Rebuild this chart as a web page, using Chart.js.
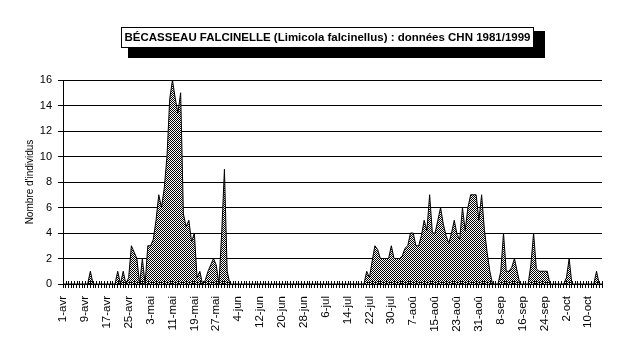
<!DOCTYPE html>
<html>
<head>
<meta charset="utf-8">
<title>Bécasseau falcinelle</title>
<script src="https://cdn.jsdelivr.net/npm/chart.js@4"></script>
<style>
    body { margin: 0; background: #fff; }
    canvas { display: block; }
</style>
</head>
<body>
<canvas id="chart" width="640" height="349"></canvas>
<script>
// titre du graphique
const chartTitle = 'BÉCASSEAU FALCINELLE (Limicola falcinellus) : données CHN 1981/1999';
const yTitle = "Nombre d'individus";

// une étiquette tous les 8 jours, du 1er avril au 10 octobre
const tickLabels = ['1-avr', '9-avr', '17-avr', '25-avr', '3-mai', '11-mai', '19-mai', '27-mai',
    '4-jun', '12-jun', '20-jun', '28-jun', '6-jul', '14-jul', '22-jul', '30-jul',
    '7-aoû', '15-aoû', '23-aoû', '31-aoû', '8-sep', '16-sep', '24-sep', '2-oct', '10-oct'];

// nombre d'individus par jour (1-avr .. 15-oct)
const counts = [
    0, 0, 0, 0, 0, 0, 0, 0, 0, 0,
    1, 0, 0, 0, 0, 0, 0, 0, 0, 0,
    1, 0, 1, 0, 0.5, 3, 2.5, 2, 0, 2,
    0, 3, 3, 3.5, 5, 7, 6, 7.5, 10, 14.5,
    16, 14.6, 13.4, 15, 5.5, 4.5, 5, 3.3, 4, 0.5,
    1, 0, 0.3, 1, 1.5, 2, 1.5, 0, 4, 9,
    1, 0, 0, 0, 0, 0, 0, 0, 0, 0,
    0, 0, 0, 0, 0, 0, 0, 0, 0, 0,
    0, 0, 0, 0, 0, 0, 0, 0, 0, 0,
    0, 0, 0, 0, 0, 0, 0, 0, 0, 0,
    0, 0, 0, 0, 0, 0, 0, 0, 0, 0,
    0, 1, 0.5, 1.8, 3, 2.7, 2, 2, 2, 2,
    3, 2, 2, 2, 2.2, 2.8, 3, 4, 4, 3,
    3, 3.8, 5, 4.2, 7, 4, 4, 5, 6, 4.7,
    3.8, 3.2, 4, 5, 3.9, 3.5, 6, 4.2, 6, 7,
    7, 7, 5, 7, 4.3, 2.5, 1, 0, 0, 0,
    1, 4, 1, 1, 1.3, 2, 1, 0, 0, 0,
    0, 1.5, 4, 1.2, 1, 1, 1, 1, 0, 0,
    0, 0, 0, 0, 0.5, 2, 0, 0, 0, 0,
    0, 0, 0, 0, 0, 1, 0, 0
];

const days = counts.map((_, i) => (i % 8 === 0 ? tickLabels[i / 8] : ''));

// trame grise (damier)
function makeHatch() {
    const c = document.createElement('canvas');
    c.width = 2;
    c.height = 2;
    const g = c.getContext('2d');
    g.fillStyle = '#fff';
    g.fillRect(0, 0, 2, 2);
    g.fillStyle = '#000';
    g.fillRect(0, 0, 1, 1);
    g.fillRect(1, 1, 1, 1);
    return g.createPattern(c, 'repeat');
}

// titre encadré avec ombre
const titleBox = {
    id: 'titleBox',
    afterDraw(chart) {
        const ctx = chart.ctx;
        ctx.save();
        ctx.fillStyle = '#000';
        ctx.fillRect(128, 31, 417, 27);
        ctx.fillStyle = '#fff';
        ctx.fillRect(121, 27, 413, 21);
        ctx.strokeStyle = '#000';
        ctx.lineWidth = 1;
        ctx.strokeRect(121.5, 27.5, 412, 20);
        ctx.fillStyle = '#000';
        // on ajuste la taille pour que le texte tienne dans le cadre
        let size = 12;
        ctx.font = 'bold ' + size + 'px "Liberation Sans", Arial, sans-serif';
        const w = ctx.measureText(chartTitle).width;
        size = size * 406 / w;
        ctx.font = 'bold ' + size.toFixed(2) + 'px "Liberation Sans", Arial, sans-serif';
        ctx.textAlign = 'center';
        ctx.textBaseline = 'middle';
        ctx.fillText(chartTitle, 327.5, 38);
        ctx.restore();
    }
};

// petites graduations qui traversent l'axe des x
const innerTicks = {
    id: 'innerTicks',
    afterDraw(chart) {
        const ctx = chart.ctx;
        const x = chart.scales.x;
        const y0 = chart.scales.y.getPixelForValue(0);
        ctx.save();
        ctx.strokeStyle = '#000';
        ctx.lineWidth = 1;
        ctx.beginPath();
        for (let i = 0; i < counts.length; i++) {
            const px = Math.round(x.getPixelForValue(i)) + 0.5;
            ctx.moveTo(px, y0 - 3);
            ctx.lineTo(px, y0);
        }
        ctx.stroke();
        ctx.restore();
    }
};

const ctx = document.getElementById('chart').getContext('2d');
new Chart(ctx, {
    type: 'line',
    data: {
        labels: days,
        datasets: [{
            data: counts,
            borderColor: '#000',
            borderWidth: 1,
            backgroundColor: makeHatch(),
            fill: 'origin',
            pointRadius: 0,
            tension: 0
        }]
    },
    options: {
        responsive: false,
        animation: false,
        layout: { padding: { top: 80, right: 38, left: 0, bottom: 0 } },
        plugins: {
            legend: { display: false },
            tooltip: { enabled: false }
        },
        scales: {
            x: {
                offset: false,
                grid: { display: true, drawOnChartArea: false, color: '#000', tickLength: 4, lineWidth: 1 },
                border: { display: true, color: '#000', width: 1 },
                ticks: {
                    autoSkip: false,
                    minRotation: 90,
                    maxRotation: 90,
                    padding: 8,
                    color: '#000',
                    font: { family: '"Liberation Sans", Arial, sans-serif', size: 11.5 }
                },
                afterFit(scale) { scale.height = 65; }
            },
            y: {
                min: 0,
                max: 16,
                ticks: {
                    stepSize: 2,
                    padding: 6,
                    color: '#000',
                    font: { family: '"Liberation Sans", Arial, sans-serif', size: 11 }
                },
                grid: { color: '#000', lineWidth: 1, tickLength: 5 },
                border: { color: '#000', width: 1 },
                title: {
                    display: true,
                    text: yTitle,
                    color: '#000',
                    padding: { top: 24, bottom: 0 },
                    font: { family: '"Liberation Sans", Arial, sans-serif', size: 10 }
                },
                afterFit(scale) { scale.width = 63; }
            }
        }
    },
    plugins: [titleBox, innerTicks]
});
</script>
</body>
</html>
